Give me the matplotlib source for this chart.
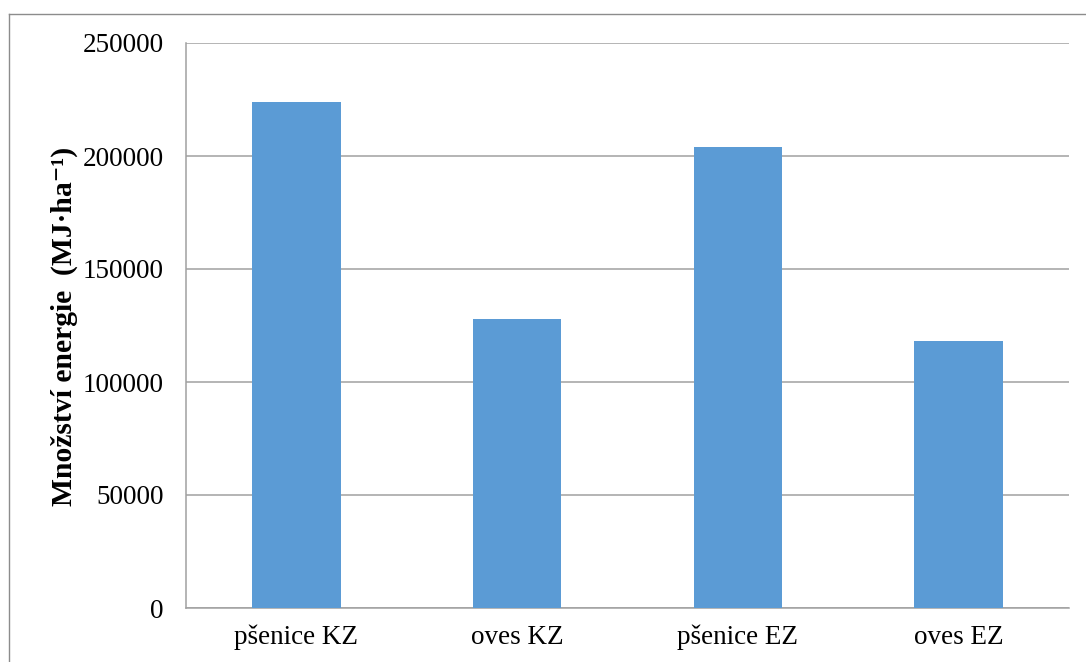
import matplotlib
matplotlib.use("Agg")
import matplotlib.pyplot as plt
from matplotlib.lines import Line2D

categories = ["pšenice KZ", "oves KZ", "pšenice EZ", "oves EZ"]
values = [224000, 128000, 204000, 118000]
yticks = [0, 50000, 100000, 150000, 200000, 250000]
ylabel = "Množství energie  (MJ·ha⁻¹)"

plt.rcParams['font.family'] = ['Liberation Serif', 'DejaVu Serif']

fig = plt.figure(figsize=(10.86, 6.62), dpi=100)
ax = fig.add_axes([186/1086, 1-608/662, (1069-186)/1086, (608-43)/662])

x = list(range(len(categories)))
ax.bar(x, values, width=0.4, color='#5B9BD5', zorder=3)
ax.set_xlim(-0.5, len(categories)-0.5)
ax.set_ylim(0, 250000)
ax.set_yticks(yticks)
ax.set_yticklabels([str(t) for t in yticks])
ax.set_xticks(x)
ax.set_xticklabels(categories)
ax.tick_params(axis='both', length=0, labelsize=19.5)
ax.tick_params(axis='y', pad=16)
ax.tick_params(axis='x', pad=12)
ax.yaxis.grid(True, color='#A0A0A0', linewidth=1.1, zorder=0)
ax.set_axisbelow(True)
for s in ['top', 'right']:
    ax.spines[s].set_visible(False)
for s in ['left', 'bottom']:
    ax.spines[s].set_color('#A0A0A0')
    ax.spines[s].set_linewidth(1.1)
fig.text(64/1086, 1-326/662, ylabel, rotation=90, ha='center', va='center',
         fontsize=21.3, fontweight='bold')

# outer chart border (left and top visible)
fig.add_artist(Line2D([8.5/1086, 8.5/1086], [0, 1-13.5/662], transform=fig.transFigure,
                      color='#8C8C8C', linewidth=1.0))
fig.add_artist(Line2D([8.5/1086, 1], [1-13.5/662, 1-13.5/662], transform=fig.transFigure,
                      color='#8C8C8C', linewidth=1.0))

fig.savefig("out.png", dpi=100)
